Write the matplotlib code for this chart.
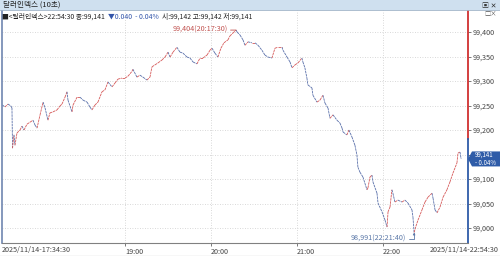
import matplotlib
matplotlib.use('Agg')
import matplotlib.pyplot as plt
from matplotlib.collections import LineCollection
from matplotlib.patches import Polygon, Rectangle
from matplotlib.transforms import IdentityTransform
from matplotlib.ticker import FuncFormatter

plt.rcParams['font.family'] = ['Noto Sans CJK KR', 'DejaVu Sans']

# minutes after 2025/11/14 17:34:30
t_min = [0.0, 1.7, 3.8, 5.9, 6.6, 7.0, 8.0, 8.7, 10.1, 12.2, 13.6, 15.0, 17.1, 19.2,
         21.3, 22.7, 24.1, 26.2, 28.3, 29.7, 31.7, 33.1, 35.2, 38.0, 40.1, 41.5, 43.6,
         45.0, 45.7, 48.5, 49.2, 52.0, 54.1, 56.2, 59.0, 61.0, 62.4, 64.5, 66.6, 69.4,
         71.5, 73.6, 76.4, 78.5, 80.6, 83.4, 85.5, 87.6, 90.4, 91.0, 93.8, 95.9, 98.0,
         100.8, 102.9, 104.3, 106.4, 108.5, 111.3, 113.4, 115.5, 116.9, 119.0, 121.7,
         123.8, 125.9, 128.7, 130.8, 132.9, 135.7, 137.8, 139.9, 142.7, 144.8, 146.2,
         148.2, 150.3, 152.4, 154.5, 157.3, 158.7, 160.8, 163.0, 163.7, 165.7, 167.8,
         169.2, 171.3, 174.1, 176.2, 178.3, 181.0, 183.1, 185.2, 188.0, 190.1, 192.2,
         195.0, 195.7, 198.5, 200.6, 202.0, 204.1, 206.2, 208.9, 209.6, 211.0, 212.4,
         213.1, 215.9, 216.6, 219.4, 221.5, 223.6, 225.0, 227.1, 228.5, 230.6, 233.4,
         235.5, 236.9, 237.6, 240.3, 241.7, 243.8, 245.9, 247.3, 248.0, 249.4, 251.5,
         254.3, 255.0, 256.4, 257.8, 258.5, 261.3, 262.0, 264.8, 266.9, 268.3, 269.0,
         270.4, 271.7, 272.4, 273.8, 275.9, 278.7, 280.8, 282.9, 285.7, 286.4, 287.2,
         288.5, 289.9, 292.7, 294.8, 296.9, 299.7, 300.4, 301.8, 303.2, 305.3, 307.4,
         310.1, 312.2, 314.3, 317.1, 317.8, 319.2, 320.0]
price = [99.251, 99.247, 99.253, 99.249, 99.245, 99.163, 99.190, 99.169, 99.194, 99.200,
         99.208, 99.200, 99.212, 99.216, 99.220, 99.210, 99.204, 99.231, 99.257, 99.245,
         99.220, 99.235, 99.237, 99.241, 99.249, 99.253, 99.267, 99.278, 99.261, 99.237,
         99.251, 99.267, 99.267, 99.261, 99.257, 99.247, 99.241, 99.251, 99.257, 99.278,
         99.282, 99.298, 99.288, 99.296, 99.304, 99.306, 99.306, 99.310, 99.320, 99.324,
         99.308, 99.312, 99.308, 99.302, 99.308, 99.329, 99.333, 99.337, 99.343, 99.349,
         99.359, 99.349, 99.359, 99.369, 99.359, 99.357, 99.349, 99.347, 99.339, 99.335,
         99.347, 99.347, 99.353, 99.363, 99.367, 99.357, 99.349, 99.367, 99.378, 99.384,
         99.392, 99.398, 99.404, 99.400, 99.394, 99.384, 99.373, 99.380, 99.378, 99.378,
         99.373, 99.363, 99.353, 99.349, 99.347, 99.367, 99.369, 99.369, 99.363, 99.349,
         99.339, 99.327, 99.333, 99.337, 99.347, 99.339, 99.327, 99.306, 99.292, 99.286,
         99.271, 99.257, 99.261, 99.271, 99.255, 99.245, 99.224, 99.231, 99.220, 99.214,
         99.204, 99.196, 99.190, 99.200, 99.186, 99.169, 99.149, 99.124, 99.114, 99.104,
         99.078, 99.082, 99.104, 99.108, 99.094, 99.071, 99.051, 99.033, 99.016, 99.002,
         99.033, 99.043, 99.078, 99.071, 99.053, 99.057, 99.053, 99.057, 99.051, 99.037,
         99.022, 98.991, 99.004, 99.016, 99.037, 99.053, 99.063, 99.071, 99.061, 99.037,
         99.031, 99.043, 99.063, 99.078, 99.094, 99.112, 99.133, 99.153, 99.155, 99.141]

prev_close = 99.181
last_price = 99.141
peak_t, peak_p = 163.0, 99.404
low_t, low_p = 287.2, 98.991

y_ticks = [99.000, 99.050, 99.100, 99.150, 99.200, 99.250, 99.300, 99.350, 99.400]
hour_ticks = [85.5, 145.5, 205.5, 265.5]
hour_labels = ['19:00', '20:00', '21:00', '22:00']
start_label = '2025/11/14-17:34:30'
end_label = '2025/11/14-22:54:30'
peak_text = '99,404(20:17:30)'
low_text = '98,991(22:21:40)'
title = '달러인덱스 (10초)'
info_left = '■<달러인덱스>22:54:30 종:99,141'
info_change = '▼0.040  - 0.04%'
info_right = '시:99,142 고:99,142 저:99,141'
box_text = '99,141\n- 0.04%'

up_col = '#d65a5a'
dn_col = '#5a70aa'

W, H = 500, 256
fig = plt.figure(figsize=(W / 100, H / 100), dpi=100)


def fx(x):
    return x / W


def fy(y):
    return 1 - y / H


# window title bar
fig.add_artist(Rectangle((0, fy(10)), 1, 10 / H, transform=fig.transFigure,
                         facecolor='#cfe0ef', edgecolor='none'))
fig.add_artist(plt.Line2D([0, 1], [fy(10), fy(10)], color='#9fb3c8', lw=0.6))
fig.add_artist(plt.Line2D([0, 1], [fy(255.5), fy(255.5)], color='#707070', lw=0.8))
fig.text(fx(3), fy(5), title, fontsize=5.5, va='center', ha='left', color='#222222')
fig.text(fx(497), fy(5), '▣ ✕', fontsize=5, va='center', ha='right', color='#333333',
         fontweight='bold')

# chart area
ax = fig.add_axes([fx(2), fy(243), (468 - 2) / W, (243 - 10) / H])
ax.set_xlim(-0.35, 324.8)
ax.set_ylim(98.9694, 99.445)

pts = list(zip(t_min, price))
segs = [[pts[i], pts[i + 1]] for i in range(len(pts) - 1)]
cols = [up_col if price[i + 1] >= price[i] else dn_col for i in range(len(pts) - 1)]
ax.add_collection(LineCollection(segs, colors=cols, linewidths=0.6,
                                 linestyles=(0, (3, 0.8))))


def ylab(v, p):
    # 99,150 sits under the last-price box
    if abs(v - 99.15) < 1e-6:
        return ''
    return f'{v:.3f}'.replace('.', ',')


ax.set_yticks(y_ticks)
ax.yaxis.set_major_formatter(FuncFormatter(ylab))
ax.yaxis.tick_right()
ax.tick_params(axis='y', length=2, width=0.5, pad=1.5, labelsize=5.2,
               colors='#444444')
ax.set_xticks(hour_ticks, hour_labels)
ax.tick_params(axis='x', length=2, width=0.5, pad=1.5, labelsize=5.2,
               colors='#444444')
for lab in ax.get_xticklabels():
    lab.set_horizontalalignment('left')

ax.grid(True, linestyle=(0, (1, 2)), color='#cccccc', lw=0.6)
for s in ['top', 'right']:
    ax.spines[s].set_visible(False)
ax.spines['bottom'].set_color('#808080')
ax.spines['bottom'].set_linewidth(0.8)
ax.spines['left'].set_color('#6f86b0')
ax.spines['left'].set_linewidth(1.2)

# price axis line: red above previous close, blue below
ytr = ax.get_yaxis_transform()
ax.plot([1, 1], [prev_close, 99.445], transform=ytr, color='#d03030', lw=1.3,
        clip_on=False)
ax.plot([1, 1], [98.9694, prev_close], transform=ytr, color='#2f5ca8', lw=1.3,
        clip_on=False)

# info line, pieces laid out one after the other
renderer = fig.canvas.get_renderer()
xpos = 2
for txt, col in [(info_left, '#222222'), (info_change, '#3355aa'), (info_right, '#222222')]:
    t = fig.text(fx(xpos), fy(17), txt, fontsize=4.9, va='center', ha='left', color=col)
    xpos = t.get_window_extent(renderer).x1 + 3
fig.text(fx(497), fy(14), '□×', fontsize=4.5, va='center', ha='right', color='#555555')

# high / low markers
ax.annotate(peak_text, xy=(peak_t, peak_p), xytext=(-6, 0), textcoords='offset points',
            ha='right', va='center', fontsize=5.2, color='#c0504d',
            arrowprops=dict(arrowstyle='-', color='#c0504d', lw=0.6,
                            shrinkA=0, shrinkB=0))
ax.annotate(low_text, xy=(low_t, low_p), xytext=(-6, -4.5), textcoords='offset points',
            ha='right', va='center', fontsize=5.2, color='#5b78a8',
            arrowprops=dict(arrowstyle='-|>', mutation_scale=3, color='#5b78a8', lw=0.6,
                            connectionstyle='angle,angleA=0,angleB=90',
                            shrinkA=0, shrinkB=0))

# last price box
yp = ax.transData.transform((0, last_price))[1]
x0 = ax.transAxes.transform((1, 0))[0]
fig.add_artist(Polygon([(x0, yp), (x0 + 4, yp + 7.5), (W, yp + 7.5), (W, yp - 7.5),
                        (x0 + 4, yp - 7.5)], closed=True, transform=IdentityTransform(),
                       facecolor='#2f5ca8', edgecolor='none'))
fig.text(fx(475), yp / H, box_text, fontsize=4.4, va='center', ha='left', color='white',
         linespacing=1.0)

# start / end time labels
fig.text(fx(2), fy(250), start_label, fontsize=5.2, va='center', ha='left', color='#444444')
fig.text(fx(499), fy(250), end_label, fontsize=5.2, va='center', ha='right', color='#444444')

fig.savefig('out.png', dpi=100)
